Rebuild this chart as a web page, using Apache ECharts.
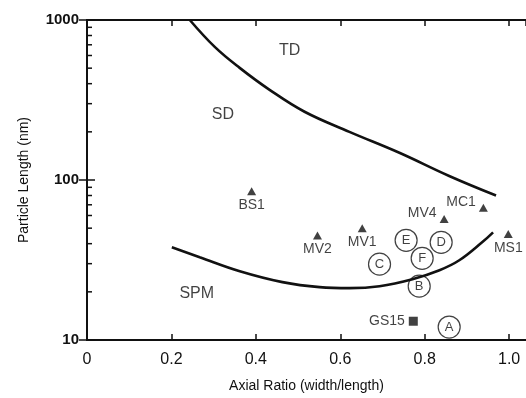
<!DOCTYPE html>
<html>
<head>
<meta charset="utf-8">
<script src="https://cdn.jsdelivr.net/npm/echarts@6/dist/echarts.min.js"></script>
<style>
  html, body { margin: 0; padding: 0; background: #fff; }
  #chart { width: 526px; height: 398px; }
</style>
</head>
<body>
<div id="chart"></div>
<script>
// boundary curves (axial ratio, particle length nm)
const upperCurve = [[0.2435, 1000], [0.3026, 679], [0.3617, 502], [0.4326, 366], [0.5154, 267],
  [0.6217, 200], [0.74, 148], [0.858, 106], [0.969, 80]];
const lowerCurve = [[0.201, 38], [0.267, 32.9], [0.362, 26.9], [0.463, 23], [0.551, 21.4], [0.622, 21.1],
  [0.693, 21.7], [0.771, 24], [0.835, 27.3], [0.882, 31.5], [0.936, 40.8], [0.962, 47.1]];

// triangles
const triNames = ['BS1', 'MV2', 'MV1', 'MV4', 'MC1', 'MS1'];
const triX = [0.39, 0.546, 0.652, 0.846, 0.939, 0.998];
const triY = [85, 45, 50, 57, 67, 46];

// circled samples
const circNames = ['A', 'B', 'C', 'D', 'E', 'F'];
const circX = [0.858, 0.787, 0.693, 0.839, 0.756, 0.794];
const circY = [12.05, 21.7, 29.8, 40.8, 42, 32.4];

// square
const sqName = 'GS15';
const sqX = 0.773;
const sqY = 13.1;

// region names
const regionNames = ['TD', 'SD', 'SPM'];
const regionX = [0.48, 0.322, 0.26];
const regionY = [641, 256, 19.4];

const xTicks = [0, 0.2, 0.4, 0.6, 0.8, 1.0];
const yMinorTicks = [20, 30, 40, 50, 60, 70, 80, 90, 200, 300, 400, 500, 600, 700, 800, 900];

const font = 'Liberation Sans, Arial, Helvetica, sans-serif';
const ink = '#111';

const labelPos = { BS1: 'bottom', MV2: 'bottom', MV1: 'bottom', MV4: 'left', MC1: 'left', MS1: 'bottom' };

const chart = echarts.init(document.getElementById('chart'));

chart.setOption({
  animation: false,
  backgroundColor: '#fff',
  grid: { left: 87, top: 20, width: 440, height: 321 },
  xAxis: [
    {
      type: 'value', min: 0, max: 1.04, interval: 0.2, position: 'bottom',
      name: 'Axial Ratio (width/length)', nameLocation: 'middle', nameGap: 39,
      nameTextStyle: { fontFamily: font, fontSize: 14, color: ink },
      axisLine: { show: true, lineStyle: { color: ink, width: 2 } },
      axisTick: { show: true, inside: true, length: 6, lineStyle: { color: ink, width: 1.5 } },
      axisLabel: {
        fontFamily: font, fontSize: 16, color: ink, margin: 12, showMaxLabel: false,
        formatter: v => xTicks.some(t => Math.abs(t - v) < 1e-6) ? (v === 0 ? '0' : v.toFixed(1)) : ''
      },
      splitLine: { show: false }
    },
    {
      type: 'value', min: 0, max: 1.04, interval: 0.2, position: 'top',
      axisLine: { show: true, lineStyle: { color: ink, width: 2 } },
      axisTick: { show: true, inside: true, length: 6, lineStyle: { color: ink, width: 1.5 } },
      axisLabel: { show: false },
      splitLine: { show: false }
    }
  ],
  yAxis: [
    {
      type: 'log', logBase: 10, min: 10, max: 1000, position: 'left',
      name: 'Particle Length (nm)', nameLocation: 'middle', nameGap: 56, nameRotate: 90,
      nameTextStyle: { fontFamily: font, fontSize: 14, color: ink },
      axisLine: { show: true, lineStyle: { color: ink, width: 2 } },
      axisTick: { show: true, inside: true, length: 8, lineStyle: { color: ink, width: 1.5 } },
      axisLabel: { fontFamily: font, fontSize: 15, color: ink, margin: 8, fontWeight: 'bold',
        formatter: v => String(Math.round(v)) },
      splitLine: { show: false }
    },
    {
      type: 'log', logBase: 10, min: 10, max: 1000, position: 'right',
      axisLine: { show: true, lineStyle: { color: ink, width: 2 } },
      axisTick: { show: true, inside: true, length: 8, lineStyle: { color: ink, width: 1.5 } },
      axisLabel: { show: false },
      splitLine: { show: false }
    }
  ],
  series: [
    {
      type: 'custom',
      silent: true,
      data: yMinorTicks.map(v => [0, v]),
      renderItem: (params, api) => {
        const p = api.coord([api.value(0), api.value(1)]);
        return {
          type: 'line',
          shape: { x1: p[0], y1: p[1], x2: p[0] + 5, y2: p[1] },
          style: { stroke: ink, lineWidth: 1.5 }
        };
      }
    },
    {
      type: 'line', data: upperCurve, smooth: 0.4, showSymbol: false, symbol: 'none',
      lineStyle: { color: ink, width: 2.6 }
    },
    {
      type: 'line', data: lowerCurve, smooth: 0.4, showSymbol: false, symbol: 'none',
      lineStyle: { color: ink, width: 2.6 }
    },
    {
      type: 'scatter', symbol: 'triangle', symbolSize: [9, 8],
      itemStyle: { color: ink },
      data: triNames.map((n, i) => ({
        value: [triX[i], triY[i]], name: n,
        label: {
          position: labelPos[n],
          offset: labelPos[n] === 'left' ? [0, -6] : [0, 0]
        }
      })),
      label: {
        show: true, formatter: '{b}', distance: 3,
        fontFamily: font, fontSize: 14, color: ink
      }
    },
    {
      type: 'scatter', symbol: 'rect', symbolSize: 9,
      itemStyle: { color: ink },
      data: [{ value: [sqX, sqY], name: sqName }],
      label: {
        show: true, formatter: '{b}', position: 'left', distance: 4,
        fontFamily: font, fontSize: 14, color: ink
      }
    },
    {
      type: 'scatter', symbol: 'circle', symbolSize: 22,
      itemStyle: { color: 'rgba(255,255,255,0)', borderColor: ink, borderWidth: 1.2 },
      data: circNames.map((n, i) => ({ value: [circX[i], circY[i]], name: n })),
      label: {
        show: true, formatter: '{b}', position: 'inside',
        fontFamily: font, fontSize: 13, color: ink
      }
    },
    {
      type: 'scatter', symbolSize: 0,
      data: regionNames.map((n, i) => ({ value: [regionX[i], regionY[i]], name: n })),
      label: {
        show: true, formatter: '{b}', position: 'inside',
        fontFamily: font, fontSize: 16, color: ink
      }
    }
  ]
});
</script>
</body>
</html>
